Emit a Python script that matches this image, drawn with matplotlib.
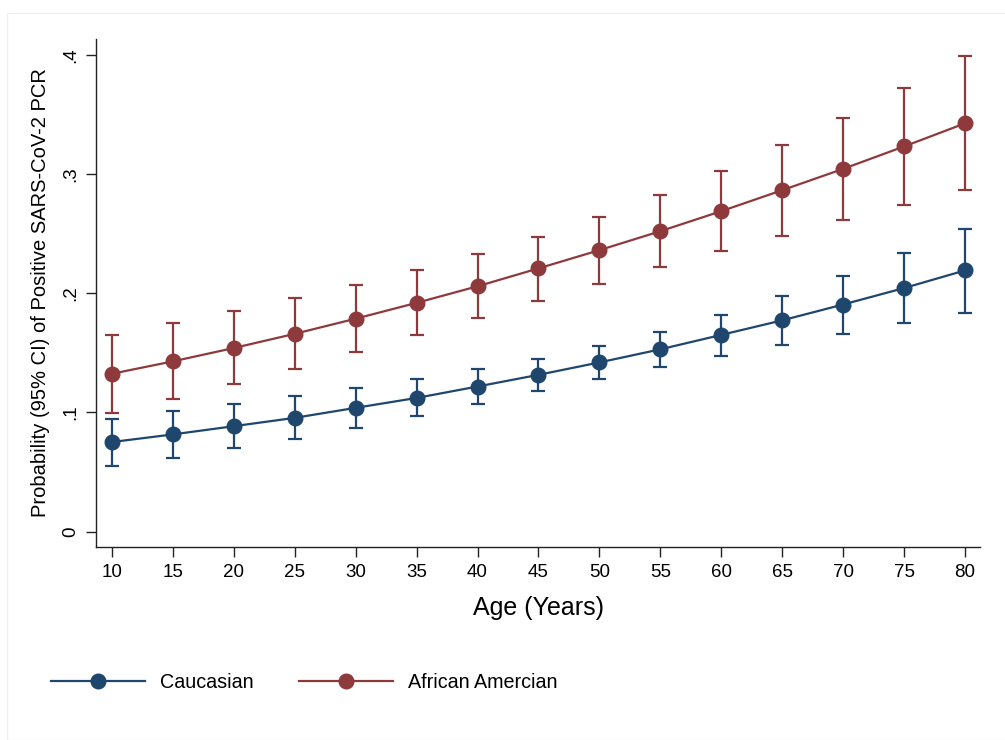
import matplotlib
matplotlib.use("Agg")
import matplotlib.pyplot as plt
from matplotlib.lines import Line2D
from matplotlib.patches import Rectangle

plt.rcParams['font.family'] = ['Liberation Sans', 'DejaVu Sans']

ages = [10, 15, 20, 25, 30, 35, 40, 45, 50, 55, 60, 65, 70, 75, 80]

cauc_p = [0.0751, 0.0815, 0.0884, 0.0954, 0.1038, 0.1121, 0.1217, 0.1315, 0.1419, 0.1529, 0.1650, 0.1772, 0.1905, 0.2043, 0.2191]
cauc_lo = [0.0549, 0.0618, 0.0697, 0.0780, 0.0870, 0.0968, 0.1072, 0.1176, 0.1277, 0.1382, 0.1477, 0.1569, 0.1659, 0.1746, 0.1835]
cauc_hi = [0.0948, 0.1009, 0.1072, 0.1136, 0.1202, 0.1280, 0.1361, 0.1451, 0.1555, 0.1673, 0.1815, 0.1974, 0.2145, 0.2335, 0.2540]

afam_p = [0.1324, 0.1428, 0.1540, 0.1659, 0.1786, 0.1919, 0.2058, 0.2208, 0.2361, 0.2520, 0.2688, 0.2864, 0.3043, 0.3231, 0.3425]
afam_lo = [0.0997, 0.1113, 0.1237, 0.1364, 0.1503, 0.1647, 0.1792, 0.1934, 0.2075, 0.2217, 0.2350, 0.2483, 0.2613, 0.2740, 0.2867]
afam_hi = [0.1653, 0.1746, 0.1847, 0.1957, 0.2066, 0.2191, 0.2327, 0.2474, 0.2639, 0.2824, 0.3026, 0.3243, 0.3474, 0.3723, 0.3986]

y_ticks = [0, 0.1, 0.2, 0.3, 0.4]
y_tick_labels = ["0", ".1", ".2", ".3", ".4"]
series_names = ["Caucasian", "African Amercian"]
x_label = "Age (Years)"
y_label = "Probability (95% CI) of Positive SARS-CoV-2 PCR"

c_blue = "#1f476e"
c_red = "#8e3a3d"

fig = plt.figure(figsize=(10.05, 7.4), dpi=100)
fig.patches.append(Rectangle((7/1005, 0), 1, 1 - 13/740, transform=fig.transFigure,
                             fill=False, edgecolor="#f0f0f0", linewidth=1.0, zorder=0))
ax = fig.add_axes([96/1005, 1 - 547.4/740, (980-96)/1005, (547.4-38.6)/740])

handles = []
for p, lo, hi, col, name in [(cauc_p, cauc_lo, cauc_hi, c_blue, series_names[0]),
                              (afam_p, afam_lo, afam_hi, c_red, series_names[1])]:
    yerr = [[pi - l for pi, l in zip(p, lo)], [h - pi for pi, h in zip(p, hi)]]
    ax.errorbar(ages, p, yerr=yerr, fmt='none', ecolor=col, elinewidth=1.6,
                capsize=4.8, capthick=1.6, zorder=2)
    ax.plot(ages, p, color=col, linewidth=1.6, marker='o', markersize=10.5, zorder=3)
    handles.append(Line2D([], [], color=col, linewidth=1.6, marker='o', markersize=10.5))

ax.set_xlim(8.69, 81.23)
ax.set_ylim(-0.0133, 0.4136)
ax.set_xticks(ages)
ax.set_xticklabels([str(a) for a in ages])
ax.set_yticks(y_ticks)
ax.set_yticklabels(y_tick_labels, rotation=90, va='center')

for s in ['top', 'right']:
    ax.spines[s].set_visible(False)
for s in ['left', 'bottom']:
    ax.spines[s].set_linewidth(1.0)
    ax.spines[s].set_color('#222222')
ax.tick_params(axis='both', length=7, width=1.0, color='#222222', labelsize=13.5, pad=5)

ax.set_xlabel(x_label, fontsize=18, labelpad=11)
ax.set_ylabel(y_label, fontsize=14.5, labelpad=9)

fig.legend(handles, series_names, loc='center left', bbox_to_anchor=(51/1005, 1 - 682/740),
           ncol=2, frameon=False, fontsize=14.2, handlelength=4.77, handletextpad=0.76,
           columnspacing=2.28, numpoints=1, borderpad=0, borderaxespad=0)

fig.savefig("out.png", dpi=100)
